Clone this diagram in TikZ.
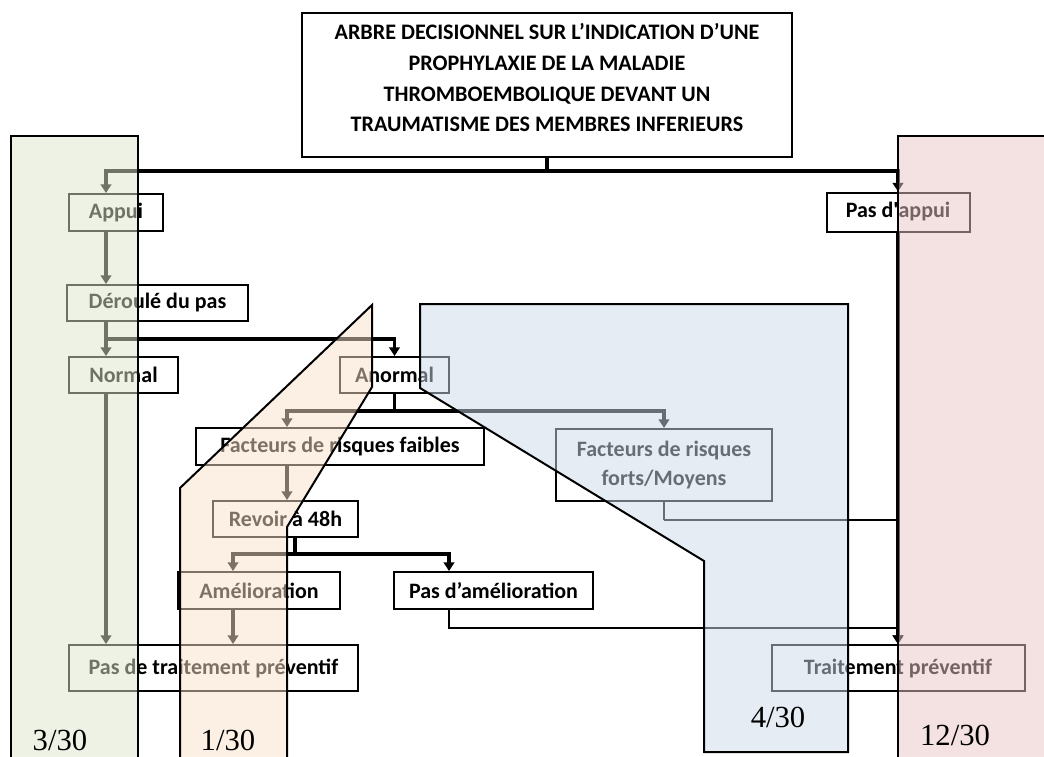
\documentclass[tikz,border=0pt]{standalone}
\usepackage{fontspec}
\setmainfont{Carlito}
\newfontfamily\fracfont{Liberation Serif}
\usetikzlibrary{arrows.meta}
\usepackage{xcolor}
\definecolor{vertpale}{RGB}{223,231,205}
\definecolor{rosepale}{RGB}{235,199,199}
\definecolor{pechepale}{RGB}{251,225,201}
\definecolor{bleupale}{RGB}{205,219,235}

\begin{document}
\begin{tikzpicture}[x=0.75pt,y=-0.75pt]
  \tikzstyle{boite}=[rectangle,draw,line width=1.5pt,inner sep=0pt,align=center,font=\fontsize{16.5}{22}\selectfont\bfseries]
  \tikzstyle{lien}=[line width=2.5pt]
  \tikzstyle{fleche}=[lien,-{Triangle[length=6.5pt,width=8pt]}]
  \tikzstyle{fin}=[line width=1.3pt]
  \tikzstyle{zone}=[draw=black,line width=1.5pt,fill opacity=0.5]
  \tikzstyle{score}=[inner sep=0pt,font=\fracfont\fontsize{23}{23}\selectfont]
  \clip (0,0) rectangle (1044,756);
  \fill[white] (0,0) rectangle (1044,756);
  \node[boite,minimum width=367.5pt,minimum height=108pt,font=\fontsize{16.6}{23}\selectfont\bfseries] (titre) at (547,85)
    {ARBRE DECISIONNEL SUR L’INDICATION D’UNE\\PROPHYLAXIE DE LA MALADIE\\THROMBOEMBOLIQUE DEVANT UN\\TRAUMATISME DES MEMBRES INFERIEURS\\[-12pt]\mbox{}};
  \node[boite,minimum width=70.5pt,minimum height=27.75pt] (appui) at (116,212.5) {Appui};
  \node[boite,minimum width=107.25pt,minimum height=29.25pt] (pasappui) at (898,212) {Pas d\textquotesingle appui};
  \node[boite,minimum width=135.75pt,minimum height=27pt] (deroule) at (157.5,303) {Déroulé du pas};
  \node[boite,minimum width=81.75pt,minimum height=27pt] (normal) at (123.5,375) {Normal};
  \node[boite,minimum width=81.75pt,minimum height=27pt] (anormal) at (394.5,375) {Anormal};
  \node[boite,minimum width=216pt,minimum height=27.75pt] (faibles) at (340,446.5) {Facteurs de risques faibles};
  \node[boite,minimum width=162pt,minimum height=54pt] (forts) at (664,465) {Facteurs de risques\\forts/Moyens};
  \node[boite,minimum width=108.75pt,minimum height=27pt] (revoir) at (285.5,519) {Revoir à 48h};
  \node[boite,minimum width=121.5pt,minimum height=27.75pt] (amelio) at (259,590.5) {Amélioration};
  \node[boite,minimum width=149.25pt,minimum height=27.75pt] (pasamelio) at (493.5,590.5) {Pas d’amélioration};
  \node[boite,minimum width=216.75pt,minimum height=34.5pt] (pastrait) at (213.5,668) {Pas de traitement préventif};
  \node[boite,minimum width=189.75pt,minimum height=34.5pt] (trait) at (898,668) {Traitement préventif};

  \coordinate (c1) at (106,0);
  \coordinate (c2) at (287,0);
  \coordinate (c3) at (295,0);
  \coordinate (c4) at (233,0);
  \coordinate (c5) at (449,0);

  \draw[lien] (titre.south) -- ++(0,13) coordinate (b1);
  \draw[fleche] (b1) -| (c1 |- appui.north);
  \draw[fleche] (b1) -| (pasappui.north);
  \draw[fleche] (c1 |- appui.south) -- (c1 |- deroule.north);
  \draw[fleche] (c1 |- deroule.south) -- (c1 |- normal.north);
  \draw[fleche] (c1 |- deroule.south) ++(0,17) -| (anormal.north);
  \draw[fleche] (c1 |- normal.south) -- (c1 |- pastrait.north);
  \draw[lien] (anormal.south) -- ++(0,17) coordinate (b2);
  \draw[fleche] (b2) -| (c2 |- faibles.north);
  \draw[fleche] (b2) -| (forts.north);
  \draw[fleche] (c2 |- faibles.south) -- (c2 |- revoir.north);
  \draw[lien] (c3 |- revoir.south) -- ++(0,16) coordinate (b3);
  \draw[fleche] (b3) -| (c4 |- amelio.north);
  \draw[fleche] (b3) -| (c5 |- pasamelio.north);
  \draw[fleche] (c4 |- amelio.south) -- (c4 |- pastrait.north);
  \draw[fleche] (pasappui.south) -- (trait.north);
  \draw[fin] (forts.south) -- ++(0,18) coordinate (b4);
  \draw[fin] (b4) -- (b4 -| pasappui.south);
  \draw[fin,-{Triangle[length=6.5pt,width=8pt]}] (c5 |- pasamelio.south) -- ++(0,18) -| (trait.north);

  \draw[zone,fill=vertpale] (11,136) rectangle (138,770);
  \draw[zone,fill=rosepale] (898,136) rectangle (1060,770);
  \draw[zone,fill=pechepale] (372,305) -- (372,387) -- (287,527) -- (287,770) -- (180,770) -- (180,488) -- cycle;
  \draw[zone,fill=bleupale] (420,304) -- (848,304) -- (848,752) -- (704,752) -- (704,561) -- (420,388) -- cycle;

  \node[score] (s1) at (60,740) {3/30};
  \node[score] (s2) at (228,740) {1/30};
  \node[score] (s3) at (778,717) {4/30};
  \node[score] (s4) at (955,735) {12/30};
\end{tikzpicture}
\end{document}
